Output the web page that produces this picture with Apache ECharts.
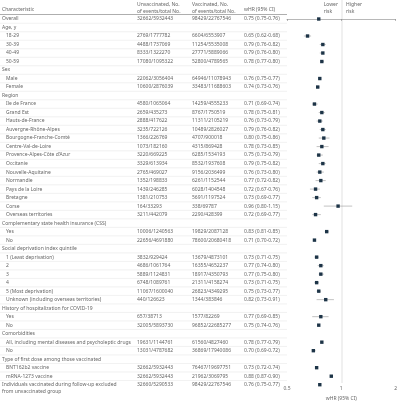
<!DOCTYPE html>
<html>
<head>
<meta charset="utf-8">
<script src="https://cdn.jsdelivr.net/npm/echarts@6/dist/echarts.min.js"></script>
<style>
  html, body { margin: 0; padding: 0; background: #fff; }
  #main { width: 400px; height: 410px; }
</style>
</head>
<body>
<div id="main"></div>
<script>
// rows of the table (null values = section header)
var labels = [
  'Overall', 'Age, y', '18-29', '30-39', '40-49', '50-59',
  'Sex', 'Male', 'Female',
  'Region', 'Ile de France', 'Grand Est', 'Hauts-de-France', 'Auvergne-Rhône-Alpes',
  'Bourgogne-Franche-Comté', 'Centre-Val-de-Loire', 'Provence-Alpes-Côte d\'Azur', 'Occitanie',
  'Nouvelle-Aquitaine', 'Normandie', 'Pays de la Loire', 'Bretagne', 'Corse', 'Overseas territories',
  'Complementary state health insurance (CSS)', 'Yes', 'No',
  'Social deprivation index quintile', '1 (Least deprivation)', '2', '3', '4', '5 (Most deprivation)',
  'Unknown (including overseas territories)',
  'History of hospitalization for COVID-19', 'Yes', 'No',
  'Comorbidities', 'All, including mental diseases and psycholeptic drugs', 'No',
  'Type of first dose among those vaccinated', 'BNT162b2 vaccine', 'mRNA-1273 vaccine',
  'Individuals vaccinated during follow-up excluded\nfrom unvaccinated group'
]
var indent = [0,0,1,1,1,1, 0,1,1, 0,1,1,1,1,1,1,1,1,1,1,1,1,1,1, 0,1,1, 0,1,1,1,1,1,1, 0,1,1, 0,1,1, 0,1,1, 0]
var unvac = [
  '32662/5932443', '', '2769/1777782', '4488/1737069', '8333/1322270', '17080/1095322',
  '', '22062/3056404', '10600/2876039',
  '', '4580/1065064', '2659/435273', '2888/417622', '3235/722126', '1366/226769', '1073/182160',
  '3220/669225', '3329/613934', '2765/469027', '1352/198833', '1439/246285', '1381/210753',
  '164/33293', '3211/442079',
  '', '10006/1240563', '22656/4691880',
  '', '3832/929424', '4686/1061764', '5889/1124831', '6748/1089761', '11067/1600040', '440/126623',
  '', '657/38713', '32005/5893730',
  '', '19631/1144761', '13031/4787682',
  '', '32662/5932443', '32662/5932443', '32660/5290533'
]
var vac = [
  '98429/22767546', '', '6604/6553907', '11254/5535008', '27771/5889066', '52800/4789565',
  '', '64946/11078943', '33483/11688603',
  '', '14259/4555233', '8767/1750519', '11311/2105219', '10489/2826027', '4707/900018', '4315/869428',
  '6285/1534193', '8532/1937608', '9156/2036499', '6261/1152544', '6028/1404548', '5691/1197524',
  '338/69787', '2290/428399',
  '', '19829/2087128', '78600/20680418',
  '', '13679/4873101', '16355/4652237', '18917/4350793', '21311/4158274', '26823/4349295', '1344/383846',
  '', '1577/82269', '96852/22685277',
  '', '61560/4827460', '36869/17940086',
  '', '76467/19697751', '21962/3069795', '98429/22767546'
]
var hr = [0.75, null, 0.65, 0.79, 0.79, 0.78, null, 0.76, 0.74,
  null, 0.71, 0.78, 0.76, 0.79, 0.80, 0.78, 0.75, 0.79, 0.76, 0.77, 0.72, 0.73, 0.96, 0.72,
  null, 0.83, 0.71, null, 0.73, 0.77, 0.77, 0.73, 0.75, 0.82, null, 0.77, 0.75,
  null, 0.78, 0.70, null, 0.73, 0.88, 0.76]
var lo = [0.75, null, 0.62, 0.76, 0.76, 0.77, null, 0.75, 0.73,
  null, 0.69, 0.75, 0.73, 0.76, 0.75, 0.73, 0.73, 0.75, 0.73, 0.72, 0.67, 0.69, 0.80, 0.69,
  null, 0.81, 0.70, null, 0.71, 0.74, 0.75, 0.71, 0.73, 0.73, null, 0.69, 0.74,
  null, 0.77, 0.69, null, 0.72, 0.87, 0.75]
var hi = [0.76, null, 0.68, 0.82, 0.80, 0.80, null, 0.77, 0.76,
  null, 0.74, 0.81, 0.79, 0.82, 0.86, 0.85, 0.79, 0.82, 0.80, 0.82, 0.76, 0.77, 1.15, 0.77,
  null, 0.85, 0.72, null, 0.75, 0.80, 0.80, 0.75, 0.77, 0.91, null, 0.85, 0.76,
  null, 0.79, 0.72, null, 0.74, 0.90, 0.77]
var xTicks = [0.5, 1, 2]

var font = 'Noto Sans'
var grey = '#666'

function fmt (v) { return v.toFixed(2) }

var rows = labels.map(function (l, i) { return i })

var chart = echarts.init(document.getElementById('main'))

var yBase = { type: 'value', min: -0.5, max: 42.8, inverse: true, show: false }

chart.setOption({
  animation: false,
  grid: [
    { left: 0, width: 287, top: 14.75, bottom: 27 },
    { left: 287, right: 3, top: 14.75, bottom: 27 }
  ],
  xAxis: [
    { gridIndex: 0, type: 'value', min: 0, max: 287, show: false },
    {
      gridIndex: 1, type: 'log', logBase: 2, min: 0.5, max: 2,
      name: 'wHR (95% CI)', nameLocation: 'middle', nameGap: 10,
      nameTextStyle: { fontSize: 5, color: grey, fontFamily: font },
      axisLine: { lineStyle: { color: '#888', width: 0.6 } },
      axisTick: { length: 2, lineStyle: { color: '#888', width: 0.6 } },
      axisLabel: {
        fontSize: 5, color: grey, fontFamily: font, margin: 3,
        formatter: function (v) { return xTicks.indexOf(+v) >= 0 ? String(v) : '' }
      },
      splitLine: { show: false }
    }
  ],
  yAxis: [
    Object.assign({ gridIndex: 0 }, yBase),
    Object.assign({ gridIndex: 1 }, yBase)
  ],
  graphic: [
    { type: 'text', left: 2, top: 7, style: { text: 'Characteristic', fontSize: 5, fill: grey, fontFamily: font } },
    { type: 'text', left: 137, top: 1, style: { text: 'Unvaccinated, No.\nof events/total No.', fontSize: 5, lineHeight: 7, fill: grey, fontFamily: font } },
    { type: 'text', left: 192, top: 1, style: { text: 'Vaccinated, No.\nof events/total No.', fontSize: 5, lineHeight: 7, fill: grey, fontFamily: font } },
    { type: 'text', left: 244, top: 7, style: { text: 'wHR (95% CI)', fontSize: 5, fill: grey, fontFamily: font } },
    { type: 'text', right: 62, top: 1, style: { text: 'Lower\nrisk', fontSize: 5, lineHeight: 7, fill: grey, fontFamily: font, align: 'right' } },
    { type: 'text', left: 346, top: 1, style: { text: 'Higher\nrisk', fontSize: 5, lineHeight: 7, fill: grey, fontFamily: font } },
    { type: 'line', shape: { x1: 0, y1: 14.5, x2: 287, y2: 14.5 }, style: { stroke: '#777', lineWidth: 0.6 } },
    { type: 'line', shape: { x1: 342, y1: 0, x2: 342, y2: 383 }, style: { stroke: '#ccc', lineWidth: 0.6 } }
  ],
  series: [
    {
      // table text + row separators
      type: 'custom',
      xAxisIndex: 0, yAxisIndex: 0,
      data: rows,
      clip: false,
      renderItem: function (params, api) {
        var i = api.value(0)
        var y = api.coord([0, i])[1]
        var yb = api.coord([0, i + 0.5])[1]
        var sty = { fontSize: 5, fill: grey, fontFamily: font, verticalAlign: 'middle', lineHeight: 7 }
        var ch = [
          { type: 'text', style: Object.assign({ text: labels[i], x: indent[i] ? 6 : 2, y: i === 43 ? y + 3.5 : y }, sty) },
          { type: 'text', style: Object.assign({ text: unvac[i], x: 137, y: y }, sty) },
          { type: 'text', style: Object.assign({ text: vac[i], x: 192, y: y }, sty) }
        ]
        if (hr[i] != null) {
          ch.push({ type: 'text', style: Object.assign({ text: fmt(hr[i]) + ' (' + fmt(lo[i]) + '-' + fmt(hi[i]) + ')', x: 244, y: y }, sty) })
        }
        if (i < 43) {
          ch.push({ type: 'line', shape: { x1: 0, y1: yb, x2: 287, y2: yb }, style: { stroke: '#e2e2e2', lineWidth: 0.5 } })
        }
        return { type: 'group', children: ch }
      }
    },
    {
      // confidence intervals and point estimates
      type: 'custom',
      xAxisIndex: 1, yAxisIndex: 1,
      clip: false,
      data: rows.filter(function (i) { return hr[i] != null }).map(function (i) { return [hr[i], i, lo[i], hi[i]] }),
      renderItem: function (params, api) {
        var c = api.coord([api.value(0), api.value(1)])
        var l = api.coord([api.value(2), api.value(1)])
        var h = api.coord([api.value(3), api.value(1)])
        return {
          type: 'group',
          children: [
            { type: 'line', shape: { x1: l[0], y1: c[1], x2: h[0], y2: c[1] }, style: { stroke: '#999', lineWidth: 0.6 } },
            { type: 'rect', shape: { x: c[0] - 1.7, y: c[1] - 1.7, width: 3.4, height: 3.4 }, style: { fill: '#1d3447' } }
          ]
        }
      }
    }
  ]
})
</script>
</body>
</html>
